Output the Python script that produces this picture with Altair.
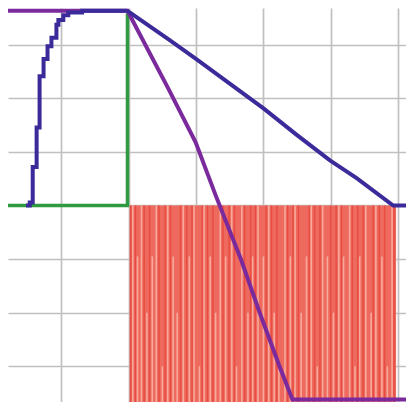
import altair as alt
import pandas as pd

# ---- data ----
X_DOMAIN = [0.208, 6.117]
Y_DOMAIN = [-3.665, 3.683]
X_GRID = [1, 2, 3, 4, 5, 6]
Y_GRID = [-3, -2, -1, 0, 1, 2, 3]

# blue staircase rise (step-after)
blue_rise_x = [0.475, 0.531, 0.575, 0.633, 0.677, 0.736, 0.795, 0.853, 0.927, 0.956, 1.029, 1.103, 1.308, 1.982]
blue_rise_y = [0.0, 0.055, 0.718, 1.455, 2.41, 2.73, 2.97, 3.13, 3.37, 3.46, 3.55, 3.60, 3.63, 3.63]
# blue descent
blue_fall_x = [1.982, 2.598, 3.009, 4.006, 4.504, 4.988, 5.384, 5.927, 6.117]
blue_fall_y = [3.63, 3.094, 2.726, 1.805, 1.307, 0.840, 0.510, 0.0, 0.0]

# purple
purple_x = [0.208, 1.982, 2.598, 2.994, 3.287, 3.669, 3.947, 4.240, 4.431, 6.117]
purple_y = [3.63, 3.63, 2.155, 1.179, 0.203, -1.013, -2.007, -3.002, -3.62, -3.62]

# green
green_x = [0.208, 1.982, 1.982]
green_y = [0.0, 0.0, 3.58]

# red switching band
red_x_start, red_x_end = 2.012, 5.97
red_top, red_bottom = 0.0, -3.665
light_x = [2.06, 2.13, 2.19, 2.27, 2.35, 2.41, 2.50, 2.58, 2.66, 2.72, 2.81, 2.90, 2.97,
           3.05, 3.12, 3.21, 3.29, 3.36, 3.44, 3.53, 3.60, 3.68, 3.77, 3.84, 3.92, 4.00,
           4.08, 4.16, 4.23, 4.32, 4.40, 4.47, 4.56, 4.64, 4.71, 4.80, 4.88, 4.95, 5.04,
           5.12, 5.19, 5.28, 5.36, 5.43, 5.52, 5.60, 5.67, 5.76, 5.84, 5.91]
light_top = [0, -0.95, 0, -2.0, -0.95, 0, -3.0, 0, -0.95, -2.0, 0, -0.95, 0,
             -3.0, 0, -0.95, -2.0, 0, -0.95, 0, -3.0, 0, -2.0, -0.95, 0, -0.95,
             0, -2.0, -3.0, 0, -0.95, 0, -2.0, -0.95, 0, -3.0, 0, -0.95, -2.0,
             0, -0.95, 0, -3.0, -0.95, 0, -2.0, 0, -0.95, -3.0, 0]
dark_x = [2.03, 2.10, 2.23, 2.31, 2.45, 2.54, 2.62, 2.77, 2.86, 2.94, 3.09, 3.17, 3.25,
          3.40, 3.49, 3.57, 3.72, 3.81, 3.88, 4.04, 4.12, 4.20, 4.36, 4.44, 4.52, 4.68,
          4.76, 4.84, 5.00, 5.08, 5.16, 5.32, 5.40, 5.48, 5.63, 5.72, 5.80, 5.94]

# ---- build tables ----
blue_rise = pd.DataFrame({"x": blue_rise_x, "y": blue_rise_y})
blue_fall = pd.DataFrame({"x": blue_fall_x, "y": blue_fall_y})
purple = pd.DataFrame({"x": purple_x, "y": purple_y})
green = pd.DataFrame({"x": green_x, "y": green_y, "o": list(range(len(green_x)))})
red_band = pd.DataFrame({"x": [red_x_start], "x2": [red_x_end], "y": [red_top], "y2": [red_bottom]})
light = pd.DataFrame({"x": light_x, "y": light_top, "y2": [red_bottom] * len(light_x)})
dark = pd.DataFrame({"x": dark_x, "y": [red_top] * len(dark_x), "y2": [red_bottom] * len(dark_x)})

xs = alt.Scale(domain=X_DOMAIN, nice=False, zero=False)
ys = alt.Scale(domain=Y_DOMAIN, nice=False, zero=False)
xax = alt.Axis(values=X_GRID, labels=False, ticks=False, domain=False, title=None,
               grid=True, gridColor="#c0c0c0", gridWidth=1.7)
yax = alt.Axis(values=Y_GRID, labels=False, ticks=False, domain=False, title=None,
               grid=True, gridColor="#c0c0c0", gridWidth=1.7)

red = alt.Chart(red_band).mark_rect(color="#ef6a5e").encode(
    x=alt.X("x:Q", scale=xs, axis=xax), x2="x2:Q", y=alt.Y("y:Q", scale=ys, axis=yax), y2="y2:Q")
light_l = alt.Chart(light).mark_rule(color="#f8b4a6", strokeWidth=1.6, opacity=0.85).encode(
    x=alt.X("x:Q", scale=xs), y=alt.Y("y:Q", scale=ys), y2="y2:Q")
dark_l = alt.Chart(dark).mark_rule(color="#e5443a", strokeWidth=1.4, opacity=0.8).encode(
    x=alt.X("x:Q", scale=xs), y=alt.Y("y:Q", scale=ys), y2="y2:Q")

green_l = alt.Chart(green).mark_line(color="#2f9a3f", strokeWidth=3.5).encode(
    x=alt.X("x:Q", scale=xs), y=alt.Y("y:Q", scale=ys), order="o:Q")
purple_l = alt.Chart(purple).mark_line(color="#7a2a9c", strokeWidth=4).encode(
    x=alt.X("x:Q", scale=xs), y=alt.Y("y:Q", scale=ys))
blue_r = alt.Chart(blue_rise).mark_line(color="#3a2a9a", strokeWidth=4, interpolate="step-after").encode(
    x=alt.X("x:Q", scale=xs), y=alt.Y("y:Q", scale=ys))
blue_f = alt.Chart(blue_fall).mark_line(color="#3a2a9a", strokeWidth=4).encode(
    x=alt.X("x:Q", scale=xs), y=alt.Y("y:Q", scale=ys))

chart = alt.layer(red, light_l, dark_l, green_l, purple_l, blue_r, blue_f).properties(
    width=398, height=394, padding=0, autosize=alt.AutoSizeParams(type="none")
).configure_view(stroke=None)

chart.save("out.html", embed_options={"renderer": "svg", "actions": False})
